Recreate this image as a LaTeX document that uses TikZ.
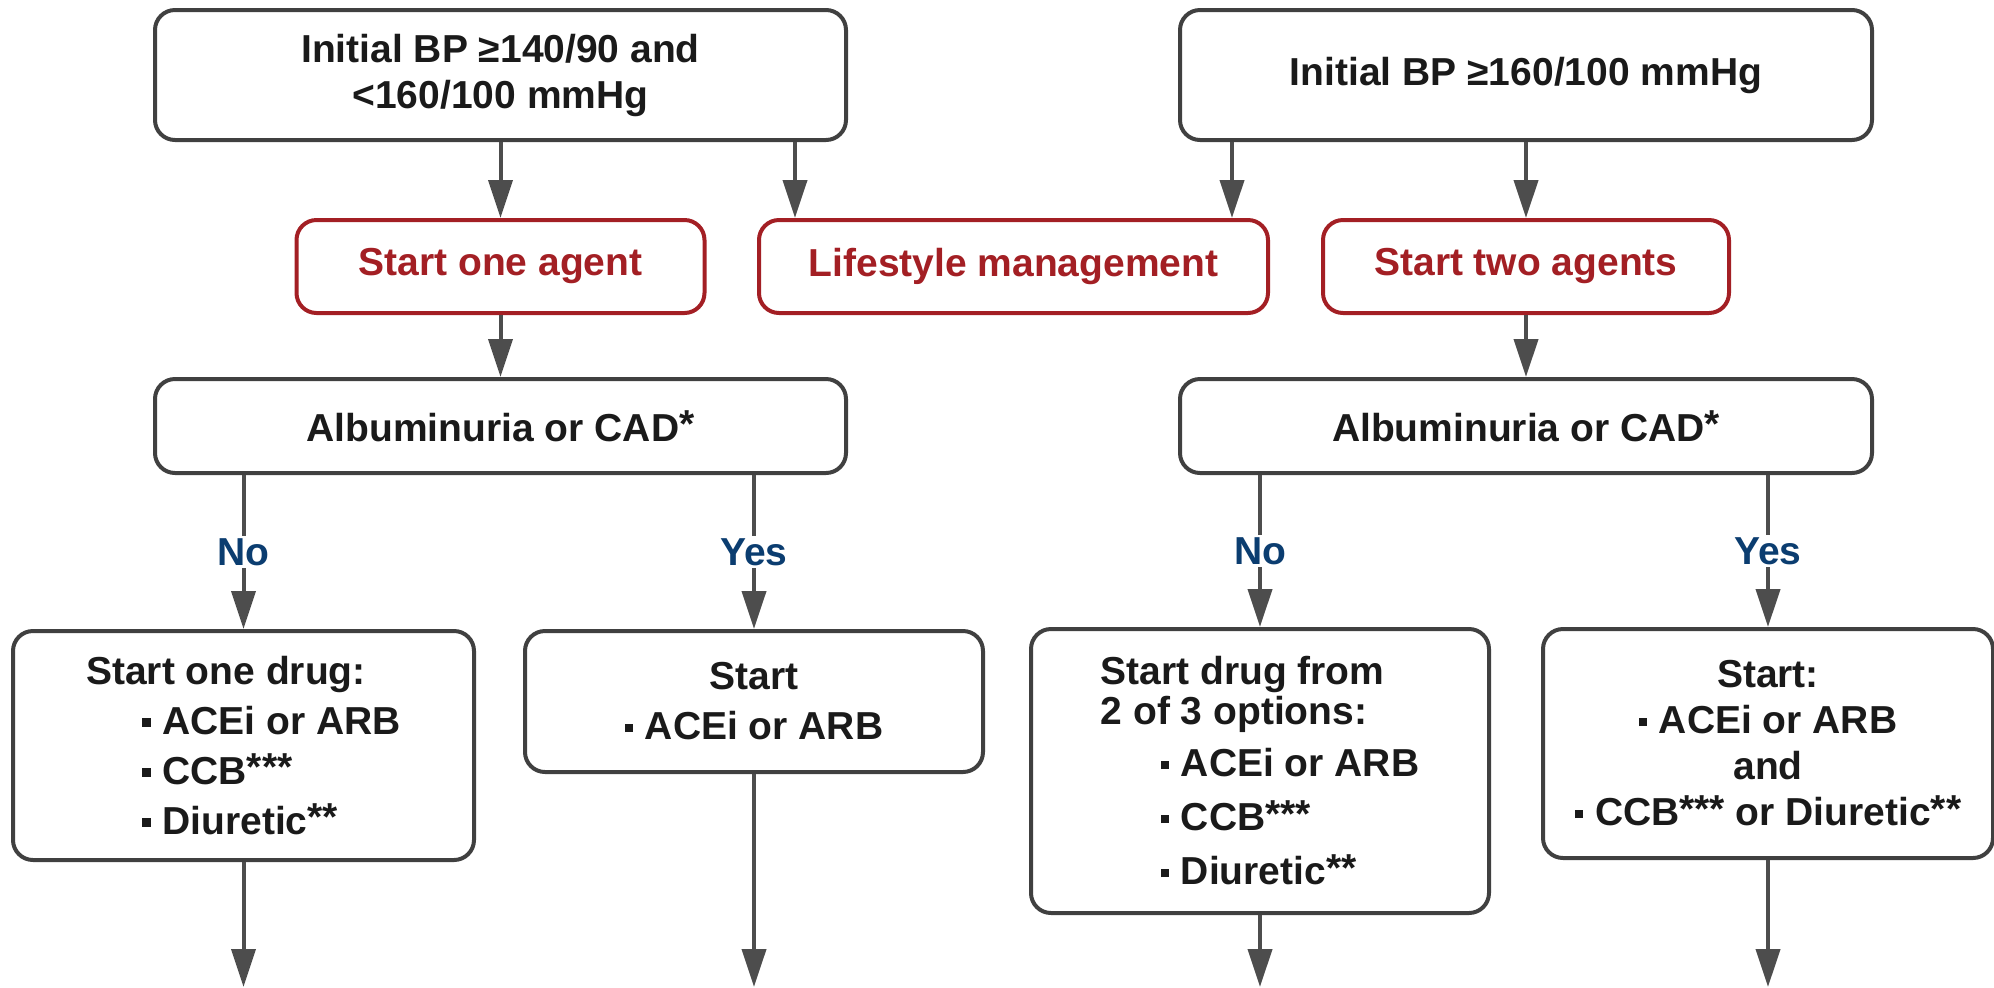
\documentclass[tikz,border=0pt]{standalone}
\usepackage{fontspec}
\setmainfont{Liberation Sans}
\usetikzlibrary{arrows.meta,positioning}

\definecolor{boxline}{HTML}{404040}
\definecolor{arrowgray}{HTML}{4D4D4D}
\definecolor{agentred}{HTML}{A31F24}
\definecolor{answerblue}{HTML}{0B3D70}
\definecolor{textblack}{HTML}{1A1A1A}

\newcommand{\blt}{\rule[0.2em]{0.22em}{0.22em}\hspace{0.3em}}
\newcommand{\stars}[1]{\raisebox{0.1em}{#1}}

\tikzset{every node/.style={font=\fontsize{19.5}{23}\selectfont\bfseries, text=textblack}}
\tikzset{every edge/.style={draw=arrowgray, line width=2pt, -{Triangle[length=19pt,width=12pt]}}}
\tikzset{box/.style={draw=boxline, line width=2pt, rounded corners=10pt, inner sep=2pt, align=center}}
\tikzset{redbox/.style={box, draw=agentred, text=agentred, minimum height=46.5pt}}
\tikzset{answer/.style={text=answerblue, fill=white, inner sep=1pt}}

\begin{document}
\begin{tikzpicture}[x=1pt, y=1pt]
  \useasboundingbox (0,0) rectangle (997,-493.5);
  \coordinate (bottom) at (0,-493.5);

  \node[box, minimum width=345.5pt, minimum height=65pt] (init1) at (250.25,-37.5) {Initial BP ≥140/90 and\\<160/100 mmHg};
  \node[box, minimum width=346pt, minimum height=65pt, node distance=512.75pt, right of=init1] (init2) {Initial BP ≥160/100 mmHg};

  \node[redbox, minimum width=204pt, node distance=95.75pt, below of=init1] (one) {Start one agent};
  \node[redbox, minimum width=254.5pt, node distance=256.5pt, right of=one] (life) {Lifestyle management};
  \node[redbox, minimum width=203pt, node distance=95.75pt, below of=init2] (two) {Start two agents};

  \node[box, minimum width=345.5pt, minimum height=47pt, node distance=79.75pt, below of=one] (alb1) {Albuminuria or CAD\stars{*}};
  \node[box, minimum width=346pt, minimum height=47pt, node distance=79.75pt, below of=two] (alb2) {Albuminuria or CAD\stars{*}};

  \node[box, anchor=north, align=left, minimum width=230.5pt, minimum height=114.5pt] (drug1) at (121.75,-314.5)
    {Start one drug:\\[2pt]
     \hspace*{28pt}\blt ACEi or ARB\\[2pt]
     \hspace*{28pt}\blt CCB\stars{***}\\[2pt]
     \hspace*{28pt}\blt Diuretic\stars{**}};
  \node[box, anchor=north, minimum width=229pt, minimum height=70.5pt] (drug2) at (377,-314.5)
    {Start\\[2pt]\blt ACEi or ARB};
  \node[box, anchor=north, align=left, minimum width=229pt, minimum height=142pt] (drug3) at (630,-313.5)
    {Start drug from\\[-3pt]
     2 of 3 options:\\[3pt]
     \hspace*{30pt}\blt ACEi or ARB\\[4pt]
     \hspace*{30pt}\blt CCB\stars{***}\\[4pt]
     \hspace*{30pt}\blt Diuretic\stars{**}};
  \node[box, anchor=north, minimum width=225pt, minimum height=114.5pt] (drug4) at (884,-313.5)
    {Start:\\
     \blt ACEi or ARB\\
     and\\
     \blt CCB\stars{***} or Diuretic\stars{**}};

  \path (init1.south) edge (one.north);
  \path ([xshift=19pt]life.north west |- init1.south) edge ([xshift=19pt]life.north west);
  \path ([xshift=-19pt]life.north east |- init2.south) edge ([xshift=-19pt]life.north east);
  \path (init2.south -| two.north) edge (two.north);

  \path (one.south) edge (alb1.north);
  \path (two.south) edge (two.south |- alb2.north);

  \path (alb1.south -| drug1.north) edge node[answer] {No} (drug1.north);
  \path (alb1.south -| drug2.north) edge node[answer] {Yes} (drug2.north);
  \path (alb2.south -| drug3.north) edge node[answer] {No} (drug3.north);
  \path (alb2.south -| drug4.north) edge node[answer] {Yes} (drug4.north);

  \path (drug1.south) edge (drug1.south |- bottom);
  \path (drug2.south) edge (drug2.south |- bottom);
  \path (drug3.south) edge (drug3.south |- bottom);
  \path (drug4.south) edge (drug4.south |- bottom);
\end{tikzpicture}
\end{document}
